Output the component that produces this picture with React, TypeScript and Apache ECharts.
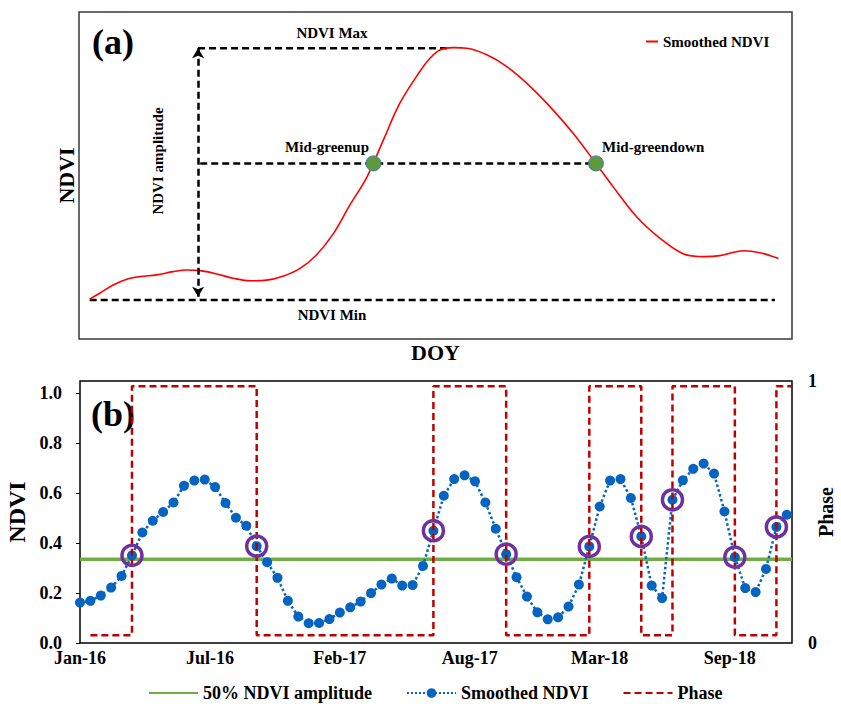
import React, { useEffect, useRef } from 'react';
import * as echarts from 'echarts';

const FONT = '"Liberation Serif", "Times New Roman", serif';

// ---------- Panel (a): schematic (x: relative DOY 0-100, y: relative NDVI 0-1) ----------
const curveX = [1.5, 2.9, 4.8, 6.7, 8.6, 10.9, 13.2, 15.1, 17.0, 19.3, 21.6, 24.0, 26.3, 28.7, 31.0, 33.3, 35.7, 38.0, 40.4, 42.7, 45.0, 47.8, 49.2, 50.6, 52.5, 54.4, 57.2, 60.0, 63.3, 66.5, 69.3, 72.5, 74.9, 78.2, 81.5, 84.8, 87.6, 89.9, 93.2, 95.5, 98.1];
const curveY = [0.122, 0.140, 0.165, 0.183, 0.191, 0.196, 0.206, 0.211, 0.209, 0.199, 0.186, 0.178, 0.180, 0.193, 0.216, 0.257, 0.323, 0.410, 0.496, 0.609, 0.721, 0.818, 0.858, 0.884, 0.891, 0.889, 0.869, 0.833, 0.772, 0.700, 0.629, 0.537, 0.466, 0.374, 0.308, 0.260, 0.252, 0.255, 0.270, 0.264, 0.246];
const aMax = 0.889;
const aMin = 0.119;
const aMid = 0.537;
const phenoX = [41.3, 72.5]; // mid-greenup, mid-greendown
const ampX = 16.7;
const maxLineX = [16.7, 52.0];
const minLineX = [1.5, 97.6];
const midLineX = [17.0, 72.5];

// ---------- Panel (b) ----------
const stepDays = 16;
const ndvi = [
  0.162, 0.169, 0.19, 0.222, 0.269, 0.351, 0.443, 0.49, 0.525, 0.563, 0.63, 0.651, 0.655, 0.625, 0.561, 0.502, 0.47, 0.388,
  0.324, 0.261, 0.169, 0.106, 0.079, 0.08, 0.096, 0.122, 0.143, 0.166, 0.2, 0.234, 0.258, 0.23, 0.232, 0.309, 0.45,
  0.59, 0.657, 0.672, 0.648, 0.563, 0.458, 0.356, 0.264, 0.186, 0.123, 0.095, 0.103, 0.146, 0.234, 0.387,
  0.547, 0.651, 0.657, 0.581, 0.427, 0.23, 0.18, 0.574, 0.652, 0.698, 0.719, 0.679, 0.527, 0.344, 0.22, 0.204, 0.297, 0.465, 0.514,
];
const halfAmplitude = 0.336;
const transitionIdx = [5, 17, 34, 41, 49, 54, 57, 63, 67];
const phaseStartIdx = 1;
const phaseLow = 0.03;
const phaseHigh = 0.98;
const xTickLabels = ['Jan-16', 'Jul-16', 'Feb-17', 'Aug-17', 'Mar-18', 'Sep-18'];
const xMaxDays = 1096;
const xTickStep = 200;

export default function App() {
  const ref = useRef<HTMLDivElement>(null);
  useEffect(() => {
    if (!ref.current) return;
    const chart = echarts.init(ref.current, undefined, { renderer: 'svg' });

    const days = ndvi.map((_, i) => i * stepDays);
    const ndviData = ndvi.map((v, i) => [days[i], v]);
    const circles = transitionIdx.map((i) => [days[i], ndvi[i]]);
    const phaseData: number[][] = [];
    let st = phaseLow;
    phaseData.push([days[phaseStartIdx], st]);
    transitionIdx.forEach((i) => {
      phaseData.push([days[i], st]);
      st = st === phaseLow ? phaseHigh : phaseLow;
      phaseData.push([days[i], st]);
    });
    phaseData.push([xMaxDays, st]);

    const bold = (size: number) => ({ fontFamily: FONT, fontWeight: 'bold' as const, fontSize: size, color: '#000' });
    const dashed = { color: '#000', width: 2.5, type: [7, 4] as number[] };
    const noSym = { opacity: 0 };

    chart.setOption({
      animation: false,
      backgroundColor: '#fff',
      grid: [
        { left: 79, top: 12, width: 713, height: 327, show: true, borderColor: '#3a3a3a', borderWidth: 1.5, backgroundColor: 'transparent', containLabel: false, outerBoundsMode: 'none' },
        { left: 80, top: 381, width: 712, height: 262, show: true, borderColor: '#000', borderWidth: 1.5, backgroundColor: 'transparent', containLabel: false, outerBoundsMode: 'none' },
      ],
      xAxis: [
        {
          gridIndex: 0, type: 'value', min: 0, max: 100,
          axisLine: { show: false }, axisTick: { show: false }, axisLabel: { show: false }, splitLine: { show: false },
          name: 'DOY', nameLocation: 'middle', nameGap: 2, nameTextStyle: { ...bold(22), verticalAlign: 'top' },
        },
        {
          gridIndex: 1, type: 'value', min: 0, max: xMaxDays, interval: xTickStep,
          axisLine: { show: false }, axisTick: { show: false }, splitLine: { show: false },
          axisLabel: {
            ...bold(18), margin: 6, showMaxLabel: false,
            formatter: (v: number) => xTickLabels[Math.round(v / xTickStep)] ?? '',
          },
        },
      ],
      yAxis: [
        {
          gridIndex: 0, type: 'value', min: 0, max: 1,
          axisLine: { show: false }, axisTick: { show: false }, axisLabel: { show: false }, splitLine: { show: false },
          name: 'NDVI', nameLocation: 'middle', nameGap: 2, nameTextStyle: { ...bold(22) },
        },
        {
          gridIndex: 1, type: 'value', min: 0, max: 1.05, interval: 0.2, position: 'left',
          axisLine: { show: false }, axisTick: { show: true, length: 4, lineStyle: { color: '#000', width: 1 } },
          splitLine: { show: false },
          axisLabel: { ...bold(18), margin: 18, showMaxLabel: false, formatter: (v: number) => v.toFixed(1) },
          name: 'NDVI', nameLocation: 'middle', nameGap: 46, nameTextStyle: { ...bold(24) },
        },
        {
          gridIndex: 1, type: 'value', min: 0, max: 1, interval: 1, position: 'right',
          axisLine: { show: false }, axisTick: { show: false }, splitLine: { show: false },
          axisLabel: { ...bold(18), margin: 16 },
          name: 'Phase', nameLocation: 'middle', nameGap: 24, nameMoveOverlap: false, nameTextStyle: { ...bold(20) },
        },
      ],
      legend: [
        {
          data: [{ name: 'curveA', itemStyle: noSym }], left: 640, top: 29, itemWidth: 12, itemHeight: 10, itemGap: 4,
          textStyle: bold(15), formatter: () => 'Smoothed NDVI', selectedMode: false,
        },
        {
          data: [
            { name: '50% NDVI amplitude', itemStyle: noSym },
            { name: 'Smoothed NDVI' },
            { name: 'Phase', itemStyle: noSym },
          ],
          left: 143, top: 679,
          itemWidth: 49, itemHeight: 12, itemGap: 34, textStyle: bold(18), selectedMode: false,
        },
      ],
      series: [
        // Panel (a)
        {
          name: 'maxLine', type: 'line', xAxisIndex: 0, yAxisIndex: 0, symbol: 'none', lineStyle: dashed,
          data: [[maxLineX[0], aMax], [maxLineX[1], aMax]], silent: true,
          markLine: {
            silent: true, symbol: ['arrow', 'arrow'], symbolSize: [9, 10], label: { show: false },
            lineStyle: dashed,
            data: [[{ coord: [ampX, aMin + 0.01] }, { coord: [ampX, aMax] }]],
          },
        },
        {
          name: 'minLine', type: 'line', xAxisIndex: 0, yAxisIndex: 0, symbol: 'none', lineStyle: dashed,
          data: [[minLineX[0], aMin], [minLineX[1], aMin]], silent: true,
        },
        {
          name: 'midLine', type: 'line', xAxisIndex: 0, yAxisIndex: 0, symbol: 'none', lineStyle: dashed,
          data: [[midLineX[0], aMid], [midLineX[1], aMid]], silent: true,
        },
        {
          name: 'curveA', type: 'line', xAxisIndex: 0, yAxisIndex: 0, symbol: 'none', smooth: 0.35,
          lineStyle: { color: '#ff0000', width: 1.6 }, itemStyle: { color: '#ff0000' },
          data: curveX.map((x, i) => [x, curveY[i]]),
        },
        {
          name: 'pheno', type: 'scatter', xAxisIndex: 0, yAxisIndex: 0, symbolSize: 15, z: 5,
          itemStyle: { color: '#5c9a3c', borderColor: '#4a77a8', borderWidth: 1, opacity: 1 },
          data: phenoX.map((x) => [x, aMid]),
        },
        // Panel (b)
        {
          name: '50% NDVI amplitude', type: 'line', xAxisIndex: 1, yAxisIndex: 1, symbol: 'none',
          lineStyle: { color: '#70ad47', width: 3.5 }, itemStyle: { color: '#70ad47' },
          data: [[0, halfAmplitude], [xMaxDays, halfAmplitude]], z: 1,
        },
        {
          name: 'Smoothed NDVI', type: 'line', xAxisIndex: 1, yAxisIndex: 1, symbol: 'circle', symbolSize: 10,
          lineStyle: { color: '#0563c1', width: 2.5, type: 'dotted' }, itemStyle: { color: '#0563c1' },
          data: ndviData, z: 2,
        },
        {
          name: 'Phase', type: 'line', xAxisIndex: 1, yAxisIndex: 2, symbol: 'none',
          lineStyle: { color: '#c00000', width: 2.5, type: [7, 4] }, itemStyle: { color: '#c00000' },
          data: phaseData, z: 3,
        },
        {
          name: 'transitions', type: 'scatter', xAxisIndex: 1, yAxisIndex: 1, symbolSize: 20, z: 4,
          itemStyle: { color: 'rgba(0,0,0,0)', borderColor: '#7030a0', borderWidth: 3.5, opacity: 1 },
          data: circles,
        },
      ],
      graphic: [
        { type: 'text', left: 92, top: 24, style: { text: '(a)', font: `bold 36px ${FONT}`, fill: '#000' } },
        { type: 'text', left: 91, top: 396, style: { text: '(b)', font: `bold 36px ${FONT}`, fill: '#000' } },
        { type: 'text', x: 332, y: 33, style: { text: 'NDVI Max', font: `bold 15px ${FONT}`, fill: '#000', align: 'center', verticalAlign: 'middle' } },
        { type: 'text', x: 332, y: 315, style: { text: 'NDVI Min', font: `bold 15px ${FONT}`, fill: '#000', align: 'center', verticalAlign: 'middle' } },
        { type: 'text', x: 369, y: 147, style: { text: 'Mid-greenup', font: `bold 15px ${FONT}`, fill: '#000', align: 'right', verticalAlign: 'middle' } },
        { type: 'text', x: 602, y: 147, style: { text: 'Mid-greendown', font: `bold 15px ${FONT}`, fill: '#000', align: 'left', verticalAlign: 'middle' } },
        { type: 'text', x: 158, y: 161, rotation: Math.PI / 2, style: { text: 'NDVI amplitude', font: `bold 15px ${FONT}`, fill: '#000', align: 'center', verticalAlign: 'middle' } },
      ],
    });
    return () => chart.dispose();
  }, []);
  return <div ref={ref} style={{ position: 'fixed', left: 0, top: 0, width: 841, height: 704 }} />;
}
